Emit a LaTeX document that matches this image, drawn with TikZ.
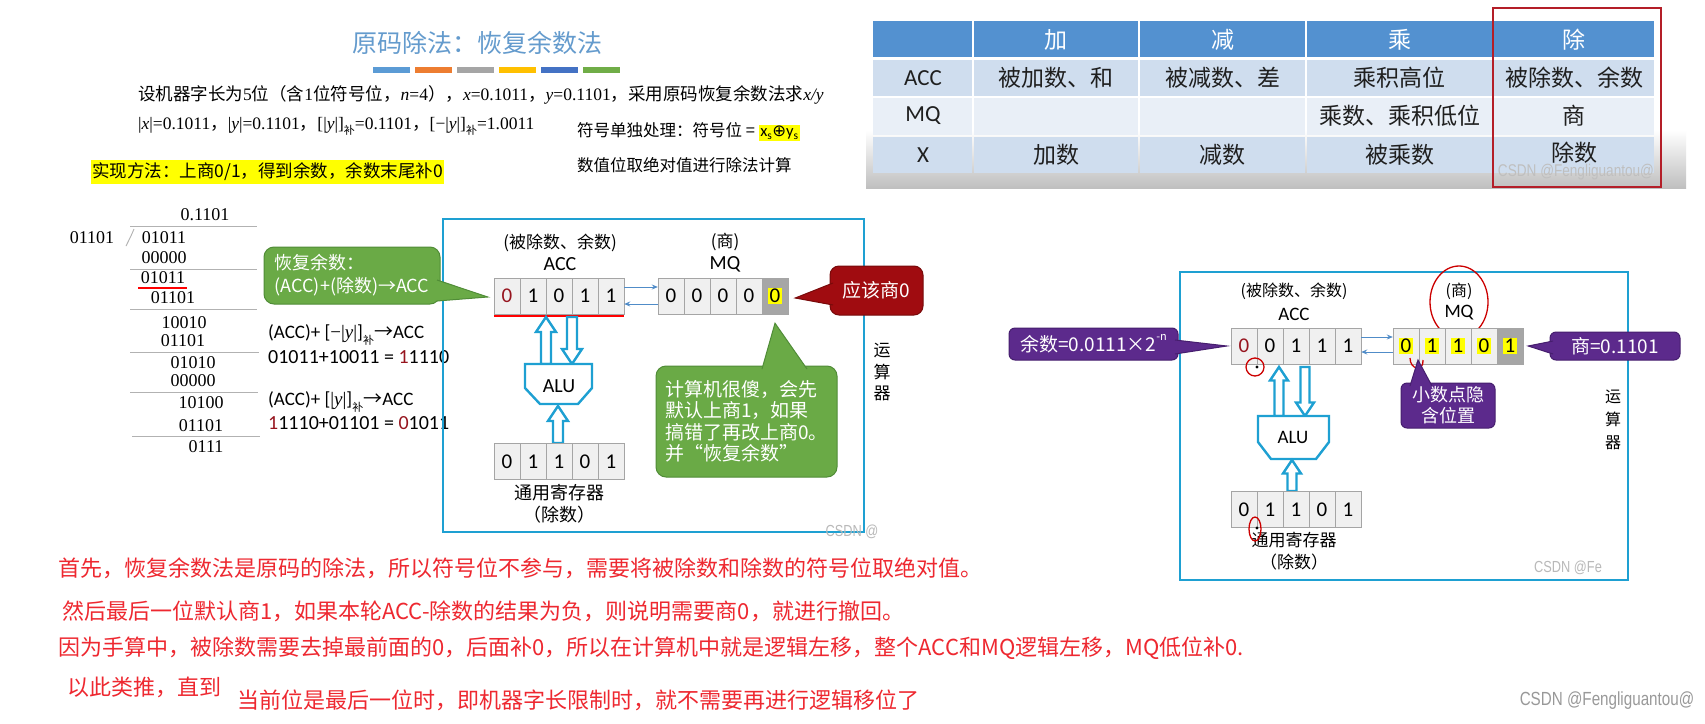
\documentclass[tikz,border=0pt]{standalone}
\usepackage{fontspec}
\setmainfont{Noto Sans CJK SC}
\newfontfamily\tms{Liberation Serif}
\newfontfamily\calib{Carlito}
\newfontfamily\dejavu{DejaVu Sans}
\newfontfamily\wmfont[FakeStretch=0.8]{Liberation Sans}
\usetikzlibrary{arrows.meta}
\newcommand\fs[2]{\fontsize{#1}{#2}\selectfont}
\definecolor{titleblue}{RGB}{100,155,205}
\definecolor{boxblue}{RGB}{30,160,210}
\definecolor{arrblue}{RGB}{80,140,200}
\definecolor{cgreen}{RGB}{106,170,70}
\definecolor{cgreenb}{RGB}{80,140,55}
\definecolor{cred}{RGB}{160,12,16}
\definecolor{credb}{RGB}{120,10,10}
\definecolor{cpurple}{RGB}{92,42,140}
\definecolor{cpurpleb}{RGB}{70,30,110}
\definecolor{txtred}{RGB}{238,40,48}
\definecolor{darkred}{RGB}{150,20,30}
\definecolor{hdrblue}{RGB}{83,145,208}
\definecolor{rowa}{RGB}{207,221,238}
\definecolor{rowb}{RGB}{233,239,247}
\definecolor{tblred}{RGB}{180,30,40}
\definecolor{hlyellow}{RGB}{255,255,0}
\definecolor{cellfill}{RGB}{240,240,240}
\definecolor{cellline}{RGB}{165,165,165}
\definecolor{cellgray}{RGB}{166,166,166}
\definecolor{barA}{RGB}{91,155,213}
\definecolor{barB}{RGB}{237,125,49}
\definecolor{barC}{RGB}{165,165,165}
\definecolor{barD}{RGB}{255,192,0}
\definecolor{barE}{RGB}{68,114,196}
\definecolor{barF}{RGB}{112,173,71}
\newcommand\hlt[1]{{\setlength\fboxsep{1.5pt}\colorbox{hlyellow}{#1}}}
\newcommand\subz[1]{\raisebox{-0.3em}{\fs{11}{11}#1}}
\newcommand\hup[5]{\draw[harrow] (#1-#4,#2) -- (#1-#4,#3+#5*1.5) -- (#1-#5,#3+#5*1.5) -- (#1,#3) -- (#1+#5,#3+#5*1.5) -- (#1+#4,#3+#5*1.5) -- (#1+#4,#2) -- cycle;}
\newcommand\hdown[5]{\draw[harrow] (#1-#4,#2) -- (#1-#4,#3-#5*1.5) -- (#1-#5,#3-#5*1.5) -- (#1,#3) -- (#1+#5,#3-#5*1.5) -- (#1+#4,#3-#5*1.5) -- (#1+#4,#2) -- cycle;}
\begin{document}
\begin{tikzpicture}[x=1pt,y=-1pt,
  cell/.style={draw=cellline, fill=cellfill, minimum height=36pt, inner sep=0pt, font=\calib\fs{21}{24}},
  lab/.style={font=\fs{17}{20}, inner sep=0pt},
  calab/.style={font=\calib\fs{20}{22}, inner sep=0pt},
  harrow/.style={draw=boxblue, line width=2.4pt, fill=white, line join=miter},
  alushape/.style={draw=boxblue, line width=2.4pt, fill=white, line join=miter},
  thinarr/.style={draw=arrblue, line width=1pt, -{Stealth[length=6pt,width=5pt]}},
  ldtxt/.style={font=\tms\fs{18}{20}, inner sep=0pt},
  ldline/.style={draw=gray!60, line width=0.9pt},
  redtxt/.style={text=txtred, font=\fs{22}{26}, anchor=west, inner sep=0pt},
  tcell/.style={font=\fs{23}{26}, text=black!88, inner sep=0pt},
  thead/.style={font=\fs{23}{26}, text=white, inner sep=0pt},
  trow/.style={font=\calib\fs{23}{26}, text=black!88, inner sep=0pt},
  gcall/.style={draw=cgreenb, fill=cgreen, rounded corners=10pt, line width=1pt, text=white},
  pcall/.style={draw=cpurpleb, fill=cpurple, rounded corners=6pt, line width=1pt, text=white},
  wm/.style={font=\wmfont\fs{16}{18}, text=gray!55, inner sep=0pt},
  hand/.style={draw=red!80!black, line width=1.3pt}
]
\useasboundingbox[fill=white] (0,0) rectangle (1705,723);

% ---------------- title & statement ----------------
\node[font=\fs{25}{30}, text=titleblue] (title) at (477,43) {原码除法：恢复余数法};
\foreach \c [count=\i from 0] in {barA,barB,barC,barD,barE,barF}
  \fill[\c] (373+42*\i,67) rectangle ++(37,6);
\node[anchor=west, font=\fs{17.5}{20}, inner sep=0pt] (line1) at (138,95)
  {设机器字长为{\tms 5}位（含{\tms 1}位符号位，{\tms\itshape n}{\tms =4}），{\tms\itshape x}{\tms =0.1011}，{\tms\itshape y}{\tms =0.1101}，采用原码恢复余数法求{\tms\itshape x/y}};
\node[anchor=west, font=\fs{17.5}{20}, inner sep=0pt] (line2) at (138,126)
  {{\tms |\textit{x}|=0.1011}，{\tms |\textit{y}|=0.1101}，{\tms [|\textit{y}|]}\subz{补}{\tms =0.1101}，{\tms [−|\textit{y}|]}\subz{补}{\tms =1.0011}};
\node[anchor=west, font=\fs{16.5}{20}, inner sep=0pt] (sign) at (577,132)
  {符号单独处理：符号位 = \hlt{\calib x\textsubscript{s}{\dejavu ⊕}y\textsubscript{s}}};
\node[anchor=west, font=\fs{16.5}{20}, inner sep=0pt] (absval) at (577,165) {数值位取绝对值进行除法计算};
\node[anchor=west, fill=hlyellow, inner xsep=1pt, inner ysep=3pt, font=\fs{17.5}{20}] (method) at (91,172)
  {实现方法：上商0/1，得到余数，余数末尾补0};

% ---------------- long division ----------------
\node[ldtxt] (q) at (205,215) {0.1101};
\draw[ldline] (130,226) -- (257,226);
\node[ldtxt] (dvs) at (92,238) {01101};
\draw[ldline] (134,229) .. controls (131,236) .. (126,246);
\node[ldtxt] (d1) at (164,238) {01011};
\node[ldtxt] (d2) at (164,258) {00000};
\draw[ldline] (130,269) -- (257,269);
\node[ldtxt] (d3) at (163,278) {01011};
\draw[red, line width=2pt] (138,288) -- (187,288);
\node[ldtxt] (d4) at (173,298) {01101};
\draw[ldline] (130,309) -- (257,309);
\node[ldtxt] (d5) at (184,323) {10010};
\node[ldtxt] (d6) at (183,341) {01101};
\draw[ldline] (130,352) -- (259,352);
\node[ldtxt] (d7) at (193,363) {01010};
\node[ldtxt] (d8) at (193,381) {00000};
\draw[ldline] (130,392) -- (258,392);
\node[ldtxt] (d9) at (201,403) {10100};
\node[ldtxt] (d10) at (201,426) {01101};
\draw[ldline] (132,436) -- (260,436);
\node[ldtxt] (d11) at (206,447) {0111};

% ---------------- notes next to division ----------------
\node[anchor=west, font=\fs{19}{22}, inner sep=0pt] (n1) at (268,335)
  {{\calib (ACC)+ [}{\tms −|\textit{y}|}{\calib ]}\subz{补}→{\calib ACC}};
\node[anchor=west, font=\calib\fs{20}{22}, inner sep=0pt] (n2) at (268,357)
  {01011+10011 = {\color{darkred}1}1110};
\node[anchor=west, font=\fs{19}{22}, inner sep=0pt] (n3) at (268,402)
  {{\calib (ACC)+ [}{\tms |\textit{y}|}{\calib ]}\subz{补}→{\calib ACC}};
\node[anchor=west, font=\calib\fs{20}{22}, inner sep=0pt] (n4) at (268,423)
  {{\color{darkred}1}1110+01101 = {\color{darkred}0}1011};

% ---------------- middle diagram ----------------
\node[draw=boxblue, line width=2pt, minimum width=421pt, minimum height=313pt] (frameA) at (653.5,375.5) {};
\node[lab] (accnoteA) at (560,243) {(被除数、余数)};
\node[calab] (acclA) at (560,264) {ACC};
\node[lab] (mqnoteA) at (725,242) {(商)};
\node[calab] (mqlA) at (725,264) {MQ};
\foreach \v/\c [count=\i] in {0/darkred,1/black,0/black,1/black,1/black}
  \node[cell, minimum width=26pt, text=\c] (ma\i) at ({494+26*(\i-0.5)},296) {\v};
\foreach \v [count=\i] in {0,0,0,0}
  \node[cell, minimum width=26pt] (mq\i) at ({658+26*(\i-0.5)},296) {\v};
\node[cell, minimum width=26pt, fill=cellgray] (mq5) at (775,296) {\hlt{0}};
\draw[red, line width=2pt] ([yshift=-2pt]ma1.south west) -- ([yshift=-2pt]ma5.south east);
\draw[thinarr] ([yshift=9pt]ma5.east) -- ([yshift=9pt]mq1.west);
\draw[thinarr] ([yshift=-8pt]mq1.west) -- ([yshift=-8pt]ma5.east);
\hup{546}{364}{317}{5}{10}
\hdown{572}{317}{364}{5}{10}
\draw[alushape] (525,364) -- (592,364) -- (592,388) -- (578,404) -- (540,404) -- (525,388) -- cycle;
\node[calab] (aluA) at (559,386) {ALU};
\hup{558}{443}{406}{5}{10}
\foreach \v [count=\i] in {0,1,1,0,1}
  \node[cell, minimum width=26pt] (mg\i) at ({494+26*(\i-0.5)},461.5) {\v};
\node[font=\fs{18}{20}, inner sep=0pt] (genA) at (559,493) {通用寄存器};
\node[font=\fs{18}{20}, inner sep=0pt] (divA) at (559,515) {（除数）};
\node[font=\fs{17}{21.5}, align=center, inner sep=0pt] (yunA) at (882,372) {运\\算\\器};
\node[wm] (wmA) at (852,532) {CSDN @};
% callouts
\node[gcall, minimum width=176pt, minimum height=57pt, align=left, font=\fs{18}{23}] (cg1) at (352,275.5)
  {恢复余数：\\(ACC)+(除数)→ACC};
\coordinate (cg1tip) at ([xshift=-6pt,yshift=-1pt]ma1.west);
\filldraw[fill=cgreen, draw=cgreenb, line width=1pt] (437,280) -- (cg1tip) -- (437,301);
\node[draw=credb, fill=cred, rounded corners=9pt, line width=1pt, text=white, minimum width=93pt, minimum height=49pt, font=\fs{19}{22}] (cr) at (876.5,290.5) {应该商0};
\coordinate (crtip) at ([xshift=7pt,yshift=-2pt]mq5.east);
\filldraw[fill=cred, draw=credb, line width=1pt] (833,283) -- (crtip) -- (833,305);
\node[gcall, minimum width=181pt, minimum height=111pt, align=left, font=\fs{19}{21.5}] (cg2) at (746.5,421.5)
  {计算机很傻，会先\\默认上商1，如果\\搞错了再改上商0。\\并“恢复余数”};
\coordinate (cg2tip) at ([yshift=-9pt]mq5.south);
\filldraw[fill=cgreen, draw=cgreenb, line width=1pt] (762,369) -- (cg2tip) -- (807,369);

% ---------------- table ----------------
\shade[top color=white, bottom color=gray!50] (866,130) rectangle (1686,188);
\foreach \xa/\xb [count=\i] in {872/973,973/1139,1139/1306,1306/1493,1493/1655}{
  \fill[hdrblue] (\xa+1,21) rectangle (\xb-1,57);
  \fill[rowa] (\xa+1,60) rectangle (\xb-1,96);
  \fill[rowb] (\xa+1,98) rectangle (\xb-1,135);
  \fill[rowa] (\xa+1,137) rectangle (\xb-1,173);
}
\node[thead] (h1) at (1056,40) {加};
\node[thead] (h2) at (1222.5,40) {减};
\node[thead] (h3) at (1399.5,40) {乘};
\node[thead] (h4) at (1574,40) {除};
\node[trow] (rACC) at (923,78) {ACC};
\node[trow] (rMQ) at (923,116) {MQ};
\node[trow] (rX) at (923,155) {X};
\node[tcell] (c11) at (1056,78) {被加数、和};
\node[tcell] (c12) at (1222.5,78) {被减数、差};
\node[tcell] (c13) at (1399.5,78) {乘积高位};
\node[tcell] (c14) at (1574,78) {被除数、余数};
\node[tcell] (c23) at (1399.5,116) {乘数、乘积低位};
\node[tcell] (c24) at (1574,116) {商};
\node[tcell] (c31) at (1056,155) {加数};
\node[tcell] (c32) at (1222.5,155) {减数};
\node[tcell] (c33) at (1399.5,155) {被乘数};
\node[tcell] (c34) at (1574,153) {除数};
\draw[tblred, line width=2pt] (1493,8) rectangle (1661,187);
\node[wm, text=gray!50, font=\wmfont\fs{17}{19}] (wmT) at (1576,172) {CSDN @Fengliguantou@};

% ---------------- right diagram ----------------
\node[draw=boxblue, line width=2pt, minimum width=448pt, minimum height=308pt] (frameB) at (1404,426) {};
\node[lab, font=\fs{16}{19}] (accnoteB) at (1294,291) {(被除数、余数)};
\node[calab, font=\calib\fs{19}{21}] (acclB) at (1294,314) {ACC};
\node[lab, font=\fs{16}{19}] (mqnoteB) at (1459,291) {(商)};
\node[calab, font=\calib\fs{19}{21}] (mqlB) at (1459,313) {MQ};
\draw[hand] (1459,302) ellipse [x radius=29, y radius=36];
\foreach \v/\c [count=\i] in {0/darkred,0/black,1/black,1/black,1/black}
  \node[cell, minimum width=26pt, text=\c] (ra\i) at ({1231+26*(\i-0.5)},346) {\v};
\foreach \v [count=\i] in {0,1,1,0}
  \node[cell, minimum width=26pt] (rq\i) at ({1393+26*(\i-0.5)},346) {\hlt{\v}};
\node[cell, minimum width=26pt, fill=cellgray] (rq5) at (1510,346) {\hlt{1}};
\draw[thinarr] ([yshift=9pt]ra5.east) -- ([yshift=9pt]rq1.west);
\draw[thinarr] ([yshift=-6pt]rq1.west) -- ([yshift=-6pt]ra5.east);
\hup{1279}{416}{367}{4.5}{9}
\hdown{1305}{367}{416}{4.5}{9}
\draw[alushape] (1258,416) -- (1329,416) -- (1329,442) -- (1316,459) -- (1271,459) -- (1258,442) -- cycle;
\node[calab, font=\calib\fs{19}{21}] (aluB) at (1293,437) {ALU};
\hup{1292}{491}{460}{4.5}{9}
\foreach \v [count=\i] in {0,1,1,0,1}
  \node[cell, minimum width=26pt] (rg\i) at ({1231+26*(\i-0.5)},509.5) {\v};
\node[font=\fs{17}{20}, inner sep=0pt] (genB) at (1294,540) {通用寄存器};
\node[font=\fs{17}{20}, inner sep=0pt] (divB) at (1294,562) {（除数）};
\node[font=\fs{16}{23}, align=center, inner sep=0pt] (yunB) at (1613,420) {运\\算\\器};
\node[wm] (wmB) at (1568,568) {CSDN @Fe};
% decimal point marks
\fill (1257,367) circle (1.6);
\draw[hand] (1255,367) ellipse [x radius=9, y radius=9];
\fill (1418,363) circle (1.6);
\draw[hand] (1410,358) .. controls (1410,370) and (1424,372) .. (1423,360);
\fill (1257,528) circle (1.6);
\draw[hand] (1255,529) ellipse [x radius=6, y radius=12];
% purple callouts
\node[pcall, minimum width=169pt, minimum height=32pt, font=\fs{19}{22}] (p1) at (1093.5,344)
  {余数=0.0111×2\raisebox{0.6em}{\fs{11}{11}-n}};
\coordinate (p1tip) at ([xshift=-4pt]ra1.west);
\filldraw[fill=cpurple, draw=cpurpleb, line width=1pt] (1175,340) -- (p1tip) -- (1175,354);
\node[pcall, minimum width=130pt, minimum height=28pt, font=\fs{19}{22}] (p2) at (1615,346) {商=0.1101};
\coordinate (p2tip) at ([xshift=5pt]rq5.east);
\filldraw[fill=cpurple, draw=cpurpleb, line width=1pt] (1553,341) -- (p2tip) -- (1553,354);
\node[pcall, minimum width=94pt, minimum height=45pt, align=center, font=\fs{18}{21}] (p3) at (1448,405.5) {小数点隐\\含位置};
\coordinate (p3tip) at (1418,360);
\filldraw[fill=cpurple, draw=cpurpleb, line width=1pt] (1410,386) -- (p3tip) -- (1432,386);

% ---------------- bottom notes ----------------
\node[redtxt] (r1) at (58,568) {首先，恢复余数法是原码的除法，所以符号位不参与，需要将被除数和除数的符号位取绝对值。};
\node[redtxt] (r2) at (62,611) {然后最后一位默认商1，如果本轮ACC-除数的结果为负，则说明需要商0，就进行撤回。};
\node[redtxt] (r3) at (58,648) {因为手算中，被除数需要去掉最前面的0，后面补0，所以在计算机中就是逻辑左移，整个ACC和MQ逻辑左移，MQ低位补0.};
\node[redtxt] (r4) at (67,687) {以此类推，直到};
\node[redtxt] (r5) at (237,700) {当前位是最后一位时，即机器字长限制时，就不需要再进行逻辑移位了};
\node[wm, font=\wmfont\fs{19}{21}, text=gray!80] (wmC) at (1607,701) {CSDN @Fengliguantou@};
\end{tikzpicture}
\end{document}
